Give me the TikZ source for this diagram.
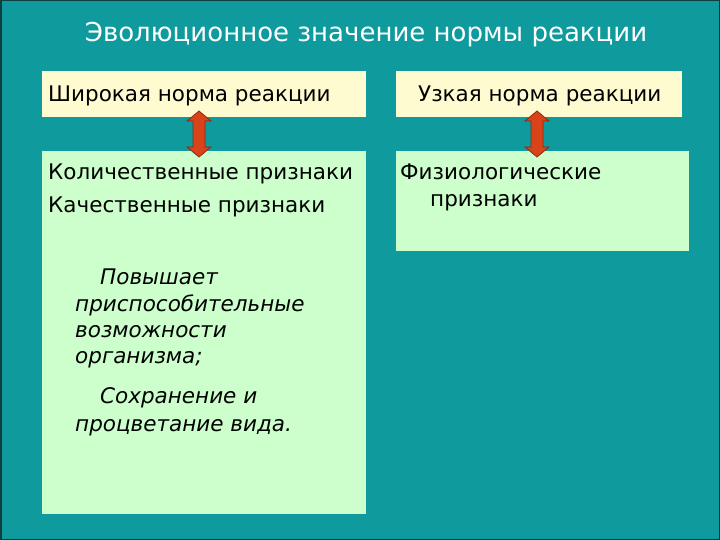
\documentclass[tikz,border=0pt]{standalone}
\usepackage{fontspec}
\setmainfont{DejaVu Sans}
\definecolor{bgteal}{HTML}{0F9B9D}
\definecolor{cream}{HTML}{FFFBD0}
\definecolor{mint}{HTML}{CCFFCC}
\definecolor{arrred}{HTML}{D8431A}
\definecolor{arrdark}{HTML}{8C2A10}
\definecolor{edgedark}{HTML}{0B3F40}
\tikzset{
  box/.style={draw=none, inner sep=0pt, outer sep=0pt, anchor=north west},
  txt/.style={anchor=base west, inner sep=0pt, font=\fontsize{21.5}{25}\selectfont, text=black},
  itxt/.style={anchor=base west, inner sep=0pt, font=\fontsize{21.5}{25}\selectfont\itshape, text=black},
  dblarr/.pic={
    \filldraw[draw=arrdark, fill=arrred, line width=0.8pt, line join=miter]
      (0,-23) -- (12,-13) -- (6,-13) -- (6,13) -- (12,13) -- (0,23)
      -- (-12,13) -- (-6,13) -- (-6,-13) -- (-12,-13) -- cycle;
  }
}
\begin{document}
\begin{tikzpicture}[x=1pt,y=-1pt]
\useasboundingbox (0,0) rectangle (720,540);
\fill[bgteal] (0,0) rectangle (720,540);
\draw[edgedark, line width=1.5pt] (0.75,0.75) rectangle (719.25,539.25);
% title
\node[anchor=base, inner sep=0pt, text=white, font=\fontsize{26}{30}\selectfont] (title) at (366,42) {Эволюционное значение нормы реакции};
% boxes
\node[box, fill=cream, minimum width=324pt, minimum height=46pt] (wide) at (42,71) {};
\node[box, fill=cream, minimum width=286pt, minimum height=46pt] (narrow) at (396,71) {};
\node[box, fill=mint, minimum width=324pt, minimum height=363pt] (wideB) at (42,151) {};
\node[box, fill=mint, minimum width=293pt, minimum height=100pt] (narrowB) at (396,151) {};
% texts
\node[txt] (t1) at (48,102) {Широкая норма реакции};
\node[txt] (t2) at (418,102) {Узкая норма реакции};
\node[txt] (t3) at (48,180) {Количественные признаки};
\node[txt] (t4) at (48,212) {Качественные признаки};
\node[txt] (t5) at (400,180) {Физиологические};
\node[txt] (t6) at (430,207) {признаки};
\node[itxt] (i1) at (100,284) {Повышает};
\node[itxt] (i2) at (75,311) {приспособительные};
\node[itxt] (i3) at (75,337) {возможности};
\node[itxt] (i4) at (75,363) {организма;};
\node[itxt] (i5) at (100,403) {Сохранение и};
\node[itxt] (i6) at (75,431) {процветание вида.};
% arrows between boxes
\path (wide.south -| 199,0) -- (wideB.north -| 199,0) coordinate[pos=0.5] (a1);
\path (narrow.south -| 537,0) -- (narrowB.north -| 537,0) coordinate[pos=0.5] (a2);
\pic at (a1) {dblarr};
\pic at (a2) {dblarr};
\end{tikzpicture}
\end{document}
